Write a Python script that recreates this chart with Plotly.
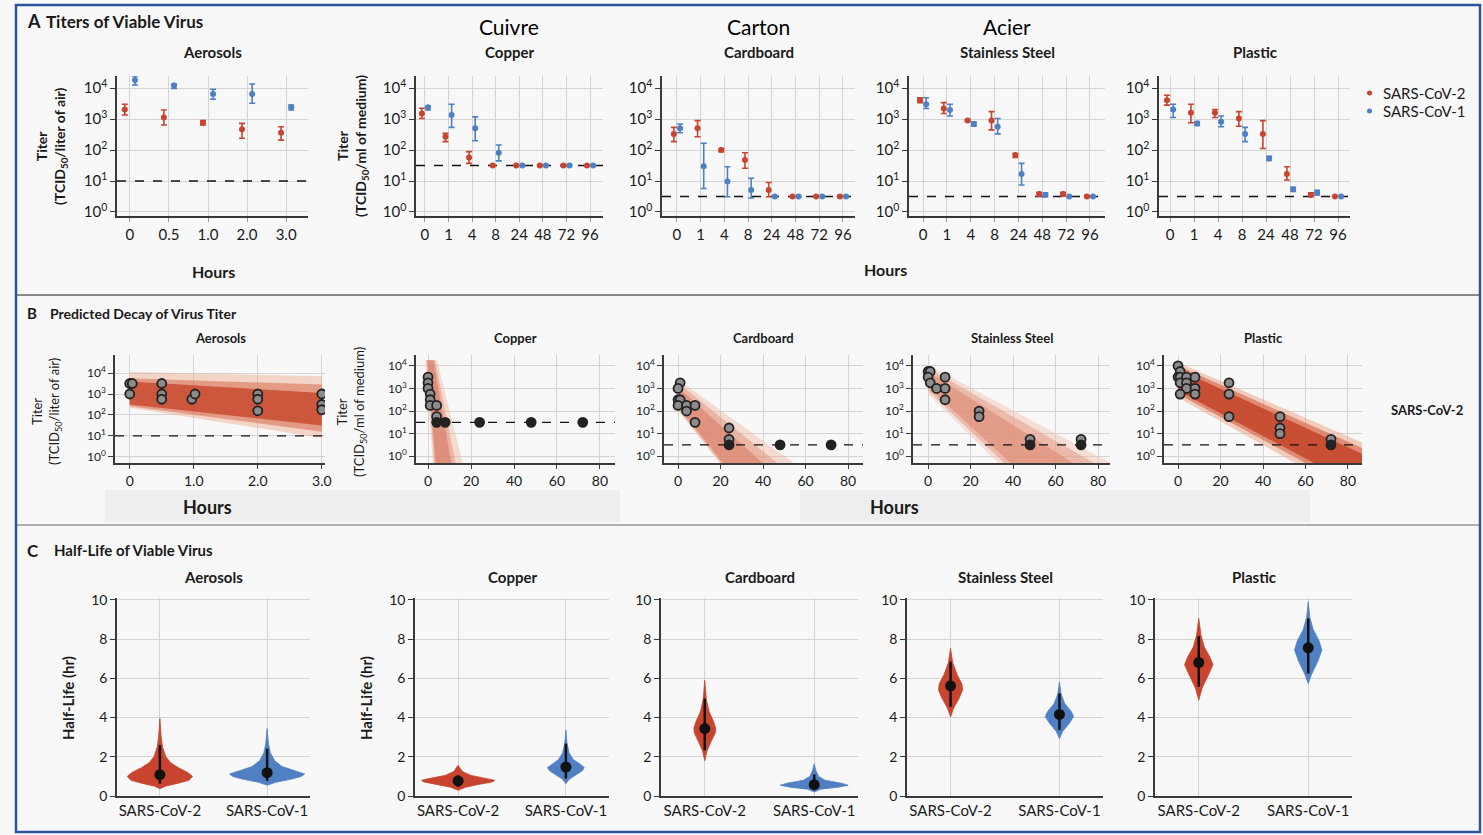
import plotly.graph_objects as go

W, H = 1483, 835
FONT = "Lato, 'Open Sans', sans-serif"
RED = "#c8442e"
BLUE = "#4f80c3"
GRID = "#d4d4d4"
AXIS = "#3a3a3a"
BG = "#f8f8f8"
TXT = "#1a1a1a"

# ---------------- Panel A: titers of viable virus (log10 TCID50) ----------------
panel_names = ["Aerosols", "Copper", "Cardboard", "Stainless Steel", "Plastic"]
french_names = ["", "Cuivre", "Carton", "Acier", ""]
virus_labels = ["SARS-CoV-2", "SARS-CoV-1"]
aer_hours = ["0", "0.5", "1.0", "2.0", "3.0"]
surf_hours = ["0", "1", "4", "8", "24", "48", "72", "96"]

aer_cov2 = [3.31, 3.05, 2.88, 2.67, 2.56]
aer_cov2_hi = [3.48, 3.29, 2.95, 2.86, 2.75]
aer_cov2_lo = [3.13, 2.81, 2.81, 2.38, 2.32]
aer_cov1 = [4.26, 4.08, 3.81, 3.81, 3.38]
aer_cov1_hi = [4.39, 4.13, 3.96, 4.13, 3.45]
aer_cov1_lo = [4.10, 3.99, 3.64, 3.51, 3.29]

cu_cov2 = [3.18, 2.43, 1.76, 1.5, 1.5, 1.5, 1.5, 1.5]
cu_cov2_hi = [3.35, 2.54, 1.95, 1.5, 1.5, 1.5, 1.5, 1.5]
cu_cov2_lo = [3.02, 2.27, 1.57, 1.5, 1.5, 1.5, 1.5, 1.5]
cu_cov1 = [3.38, 3.13, 2.70, 1.91, 1.5, 1.5, 1.5, 1.5]
cu_cov1_hi = [3.42, 3.48, 3.07, 2.16, 1.5, 1.5, 1.5, 1.5]
cu_cov1_lo = [3.29, 2.73, 2.30, 1.65, 1.5, 1.5, 1.5, 1.5]

cb_cov2 = [2.52, 2.70, 2.00, 1.68, 0.71, 0.5, 0.5, 0.5]
cb_cov2_hi = [2.73, 2.95, 2.05, 1.91, 0.95, 0.5, 0.5, 0.5]
cb_cov2_lo = [2.27, 2.43, 1.95, 1.41, 0.49, 0.5, 0.5, 0.5]
cb_cov1 = [2.70, 1.48, 0.98, 0.71, 0.5, 0.5, 0.5, 0.5]
cb_cov1_hi = [2.84, 2.22, 1.46, 1.09, 0.5, 0.5, 0.5, 0.5]
cb_cov1_lo = [2.56, 0.76, 0.49, 0.45, 0.5, 0.5, 0.5, 0.5]

ss_cov2 = [3.61, 3.34, 2.95, 2.95, 1.84, 0.58, 0.58, 0.5]
ss_cov2_hi = [3.69, 3.53, 2.98, 3.24, 1.89, 0.63, 0.63, 0.5]
ss_cov2_lo = [3.53, 3.18, 2.92, 2.65, 1.76, 0.52, 0.52, 0.5]
ss_cov1 = [3.48, 3.29, 2.84, 2.75, 1.23, 0.55, 0.5, 0.5]
ss_cov1_hi = [3.69, 3.48, 2.90, 3.02, 1.57, 0.62, 0.5, 0.5]
ss_cov1_lo = [3.34, 3.10, 2.77, 2.52, 0.87, 0.5, 0.5, 0.5]

pl_cov2 = [3.61, 3.20, 3.20, 3.02, 2.52, 1.23, 0.55, 0.5]
pl_cov2_hi = [3.77, 3.48, 3.31, 3.24, 2.95, 1.46, 0.62, 0.5]
pl_cov2_lo = [3.45, 2.88, 3.05, 2.77, 2.05, 1.03, 0.5, 0.5]
pl_cov1 = [3.31, 2.86, 2.91, 2.52, 1.73, 0.73, 0.62, 0.5]
pl_cov1_hi = [3.48, 2.92, 3.10, 2.73, 1.80, 0.80, 0.70, 0.5]
pl_cov1_lo = [3.05, 2.79, 2.75, 2.27, 1.66, 0.66, 0.55, 0.5]

detection_limit = [1.0, 1.5, 0.5, 0.5, 0.5]

# ---------------- Panel B: predicted decay (SARS-CoV-2) ----------------
aer_obs_t = [0, 0.04, 0, 0.5, 0.5, 0.5, 0.97, 1.02, 2.0, 2.0, 2.0, 3.0, 3.0, 3.0]
aer_obs_y = [3.5, 3.5, 3.0, 3.5, 3.0, 2.75, 2.75, 3.0, 3.0, 2.75, 2.2, 3.0, 2.5, 2.25]
cu_obs_t = [0, 0, 0, 1, 1, 1, 4, 4, 4, 8, 24, 48, 72]
cu_obs_y = [3.5, 3.25, 3.0, 2.75, 2.5, 2.25, 2.25, 1.75, 1.5, 1.5, 1.5, 1.5, 1.5]
cb_obs_t = [1, 0, 0, 1, 0, 4, 4, 8, 8, 24, 24, 24, 48, 72]
cb_obs_y = [3.25, 3.0, 2.5, 2.5, 2.25, 2.25, 2.0, 2.25, 1.5, 1.25, 0.75, 0.5, 0.5, 0.5]
ss_obs_t = [0, 1, 0, 1, 4, 8, 8, 8, 24, 24, 48, 48, 72, 72]
ss_obs_y = [3.75, 3.75, 3.5, 3.25, 3.0, 3.5, 3.0, 2.5, 2.0, 1.75, 0.75, 0.5, 0.75, 0.5]
pl_obs_t = [0, 1, 0, 1, 4, 8, 1, 4, 4, 8, 1, 8, 24, 24, 24, 48, 48, 48, 72, 72]
pl_obs_y = [4.0, 3.75, 3.5, 3.5, 3.5, 3.5, 3.25, 3.25, 3.0, 3.0, 2.75, 2.75,
            3.25, 2.75, 1.75, 1.75, 1.25, 1.0, 0.75, 0.5]

# predicted-decay envelopes (outer, middle, inner), hours / log10 titer
aer_fan_t = [[0, 3, 3, 0], [0, 3, 3, 0], [0, 3, 3, 0]]
aer_fan_y = [[2.35, 0.9, 3.85, 4.05], [2.42, 1.2, 3.45, 3.75], [2.5, 1.5, 3.05, 3.6]]
cu_fan_t = [[-1.4, 2.3, 16.3, 4.2], [-0.8, 3.0, 13.0, 3.2], [-0.3, 3.6, 11.0, 2.5]]
cu_fan_y = [[4.25, -0.4, -0.4, 4.25], [4.25, -0.4, -0.4, 4.25], [4.25, -0.4, -0.4, 4.25]]
cb_fan_t = [[0, 20.5, 56, 0], [0, 21, 48, 0], [0, 22, 41, 0]]
cb_fan_y = [[2.0, -0.4, -0.4, 3.4], [2.1, -0.4, -0.4, 3.25], [2.2, -0.4, -0.4, 3.05]]
ss_fan_t = [[0, 34, 88, 0], [0, 37, 80, 0], [0, 40, 70, 0]]
ss_fan_y = [[2.75, -0.4, -0.4, 4.05], [2.9, -0.4, -0.4, 3.9], [3.05, -0.4, -0.4, 3.75]]
pl_fan_t = [[0, 57, 88, 88, 0], [0, 62, 88, 88, 0], [0, 66, 88, 88, 0]]
pl_fan_y = [[2.6, -0.4, -0.4, 0.55, 4.15], [2.75, -0.4, -0.4, 0.3, 4.0], [2.9, -0.4, -0.4, 0.05, 3.85]]

# ---------------- Panel C: half-life (hours) ----------------
hl_median_cov2 = [1.09, 0.77, 3.44, 5.62, 6.81]
hl_median_cov1 = [1.19, 1.48, 0.58, 4.16, 7.56]
hl_ci_cov2_lo = [0.63, 0.46, 2.33, 4.55, 5.57]
hl_ci_cov2_hi = [2.60, 1.06, 4.97, 6.85, 8.16]
hl_ci_cov1_lo = [0.77, 0.89, 0.30, 3.36, 6.25]
hl_ci_cov1_hi = [2.42, 2.67, 1.10, 5.23, 9.06]
# violin profiles: half-life levels and half-widths (category units)
aer_v2_y = [0.37, 0.5, 0.65, 0.8, 1.0, 1.2, 1.45, 1.7, 2.0, 2.5, 3.0, 3.95]
aer_v2_w = [0, 0.05, 0.17, 0.27, 0.305, 0.26, 0.17, 0.1, 0.055, 0.025, 0.012, 0]
aer_v1_y = [0.55, 0.7, 0.85, 1.0, 1.12, 1.3, 1.5, 1.8, 2.2, 2.7, 3.44]
aer_v1_w = [0, 0.08, 0.22, 0.32, 0.35, 0.25, 0.14, 0.07, 0.03, 0.012, 0]
cu_v2_y = [0.29, 0.45, 0.6, 0.72, 0.8, 0.9, 1.05, 1.25, 1.57]
cu_v2_w = [0, 0.07, 0.2, 0.32, 0.34, 0.26, 0.12, 0.04, 0]
cu_v1_y = [0.63, 0.85, 1.1, 1.3, 1.45, 1.6, 1.85, 2.2, 2.7, 3.36]
cu_v1_w = [0, 0.03, 0.1, 0.155, 0.17, 0.14, 0.07, 0.03, 0.01, 0]
cb_v2_y = [1.8, 2.3, 2.8, 3.2, 3.45, 3.8, 4.3, 4.9, 5.9]
cb_v2_w = [0, 0.02, 0.06, 0.095, 0.1, 0.08, 0.04, 0.015, 0]
cb_v1_y = [0.2, 0.35, 0.45, 0.55, 0.65, 0.8, 1.0, 1.3, 1.65]
cb_v1_w = [0, 0.06, 0.22, 0.31, 0.25, 0.1, 0.04, 0.015, 0]
ss_v2_y = [4.04, 4.5, 5.0, 5.4, 5.7, 6.2, 6.8, 7.53]
ss_v2_w = [0, 0.03, 0.08, 0.11, 0.105, 0.06, 0.02, 0]
ss_v1_y = [2.93, 3.3, 3.7, 4.05, 4.3, 4.7, 5.2, 5.83]
ss_v1_w = [0, 0.03, 0.09, 0.13, 0.11, 0.05, 0.015, 0]
pl_v2_y = [4.89, 5.5, 6.2, 6.7, 7.1, 7.6, 8.2, 9.06]
pl_v2_w = [0, 0.03, 0.09, 0.13, 0.1, 0.05, 0.02, 0]
pl_v1_y = [5.74, 6.2, 6.9, 7.45, 7.9, 8.5, 9.1, 9.91]
pl_v1_w = [0, 0.03, 0.09, 0.125, 0.1, 0.045, 0.015, 0]

# ---------------- assemble ----------------
A_series = [
    (aer_hours, aer_cov2, aer_cov2_hi, aer_cov2_lo, aer_cov1, aer_cov1_hi, aer_cov1_lo),
    (surf_hours, cu_cov2, cu_cov2_hi, cu_cov2_lo, cu_cov1, cu_cov1_hi, cu_cov1_lo),
    (surf_hours, cb_cov2, cb_cov2_hi, cb_cov2_lo, cb_cov1, cb_cov1_hi, cb_cov1_lo),
    (surf_hours, ss_cov2, ss_cov2_hi, ss_cov2_lo, ss_cov1, ss_cov1_hi, ss_cov1_lo),
    (surf_hours, pl_cov2, pl_cov2_hi, pl_cov2_lo, pl_cov1, pl_cov1_hi, pl_cov1_lo),
]
B_obs = [(aer_obs_t, aer_obs_y), (cu_obs_t, cu_obs_y), (cb_obs_t, cb_obs_y),
         (ss_obs_t, ss_obs_y), (pl_obs_t, pl_obs_y)]
B_fans = [(aer_fan_t, aer_fan_y), (cu_fan_t, cu_fan_y), (cb_fan_t, cb_fan_y),
          (ss_fan_t, ss_fan_y), (pl_fan_t, pl_fan_y)]
C_violins = [((aer_v2_y, aer_v2_w), (aer_v1_y, aer_v1_w)),
             ((cu_v2_y, cu_v2_w), (cu_v1_y, cu_v1_w)),
             ((cb_v2_y, cb_v2_w), (cb_v1_y, cb_v1_w)),
             ((ss_v2_y, ss_v2_w), (ss_v1_y, ss_v1_w)),
             ((pl_v2_y, pl_v2_w), (pl_v1_y, pl_v1_w))]

# layout geometry (pixels)
A_x = [(117, 308), (416, 603), (662, 855), (909, 1105), (1159, 1350)]
A_y = (76, 216)
A_xrange = [(-0.33, 4.56), (-0.38, 7.55), (-0.63, 7.51), (-0.59, 7.63), (-0.46, 7.5)]
A_yrange = (-0.13, 4.39)
B_x = [(115, 325), (416, 615), (664, 863), (913, 1110), (1164, 1362)]
B_y = (355, 463)
B_xrange = [(-0.23, 3.05), (-5.6, 87), (-6.6, 87), (-7.1, 85.6), (-6.6, 86.6)]
B_yrange = [(-0.29, 4.86), (-0.30, 4.48), (-0.30, 4.48), (-0.30, 4.48), (-0.30, 4.48)]
C_x = [(117, 310), (415, 609), (661, 858), (907, 1103), (1155, 1352)]
C_y = (598, 796)

fan_colors = [
    ["rgba(238,170,140,0.45)", "rgba(214,108,78,0.55)", "rgba(196,64,38,0.75)"],
    ["rgba(240,185,165,0.45)", "rgba(225,140,118,0.5)", "rgba(214,115,92,0.55)"],
    ["rgba(240,185,165,0.45)", "rgba(226,145,122,0.5)", "rgba(215,118,95,0.55)"],
    ["rgba(240,190,170,0.45)", "rgba(228,150,128,0.5)", "rgba(218,125,102,0.5)"],
    ["rgba(236,160,130,0.5)", "rgba(212,95,65,0.6)", "rgba(194,62,36,0.8)"],
]

def xd(p):
    return [p[0] / W, p[1] / W]

def yd(p):
    return [1 - p[1] / H, 1 - p[0] / H]

fig = go.Figure()
layout = {}
dec_vals = [1, 10, 100, 1000, 10000]
dec_text = ["10<sup>%d</sup>" % k for k in range(5)]

def akey(kind, n):
    return kind + ("axis" if n == 1 else "axis%d" % n)

def ref(kind, n):
    return kind + ("" if n == 1 else str(n))

# ---- Row A ----
for i in range(5):
    n = i + 1
    labels, c2, c2h, c2l, c1, c1h, c1l = A_series[i]
    idx = list(range(len(labels)))
    off = 0.13
    lo_x, hi_x = A_xrange[i]
    lim = 10 ** detection_limit[i]
    fig.add_trace(go.Scatter(x=[lo_x, hi_x], y=[lim, lim], mode="lines",
                             line=dict(color="#111", width=1.3, dash="dash"),
                             showlegend=False, hoverinfo="skip",
                             xaxis=ref("x", n), yaxis=ref("y", n)))
    for vals, hi, lo, col, name, sgn in [(c2, c2h, c2l, RED, virus_labels[0], -1),
                                         (c1, c1h, c1l, BLUE, virus_labels[1], 1)]:
        v = [10 ** a for a in vals]
        up = [10 ** h - 10 ** a for a, h in zip(vals, hi)]
        dn = [10 ** a - 10 ** l for a, l in zip(vals, lo)]
        fig.add_trace(go.Scatter(
            x=[k + sgn * off for k in idx], y=v, mode="markers", name=name,
            marker=dict(color=col, size=6),
            error_y=dict(type="data", array=up, arrayminus=dn, color=col,
                         thickness=1.6, width=3),
            showlegend=False, xaxis=ref("x", n), yaxis=ref("y", n)))
    layout[akey("x", n)] = dict(domain=xd(A_x[i]), anchor=ref("y", n), range=list(A_xrange[i]),
                               tickvals=idx, ticktext=labels, showgrid=True, gridcolor=GRID,
                               showline=True, linecolor=AXIS, linewidth=1.5, ticks="outside",
                               ticklen=4, tickcolor="#999", zeroline=False, automargin=False,
                               tickfont=dict(size=15, family=FONT, color=TXT))
    layout[akey("y", n)] = dict(domain=yd(A_y), anchor=ref("x", n), type="log", range=list(A_yrange),
                               tickvals=dec_vals, ticktext=dec_text, showgrid=True, gridcolor=GRID,
                               showline=True, linecolor=AXIS, linewidth=1.5, ticks="outside",
                               ticklen=5, tickcolor=AXIS, zeroline=False, automargin=False,
                               tickfont=dict(size=15, family=FONT, color=TXT))

# ---- Row B ----
for i in range(5):
    n = i + 6
    ft, fy = B_fans[i]
    for lvl in range(3):
        fig.add_trace(go.Scatter(x=ft[lvl], y=[10 ** a for a in fy[lvl]], mode="lines",
                                 fill="toself", fillcolor=fan_colors[i][lvl],
                                 line=dict(width=0), showlegend=False, hoverinfo="skip",
                                 xaxis=ref("x", n), yaxis=ref("y", n)))
    lo_x, hi_x = B_xrange[i]
    lim = 10 ** detection_limit[i]
    fig.add_trace(go.Scatter(x=[lo_x, hi_x], y=[lim, lim], mode="lines",
                             line=dict(color="#111", width=1.3, dash="dash"),
                             showlegend=False, hoverinfo="skip",
                             xaxis=ref("x", n), yaxis=ref("y", n)))
    t, y = B_obs[i]
    fills = ["#222" if abs(a - detection_limit[i]) < 1e-9 else "#8c8c8c" for a in y]
    fig.add_trace(go.Scatter(x=t, y=[10 ** a for a in y], mode="markers",
                             marker=dict(size=9, color=fills, line=dict(color="#222", width=1.8)),
                             showlegend=False, xaxis=ref("x", n), yaxis=ref("y", n)))
    if i == 0:
        tv, tt = [0, 1, 2, 3], ["0", "1.0", "2.0", "3.0"]
    else:
        tv, tt = [0, 20, 40, 60, 80], ["0", "20", "40", "60", "80"]
    layout[akey("x", n)] = dict(domain=xd(B_x[i]), anchor=ref("y", n), range=list(B_xrange[i]),
                               tickvals=tv, ticktext=tt, showgrid=True, gridcolor=GRID,
                               showline=True, linecolor=AXIS, linewidth=1.5, ticks="outside",
                               ticklen=4, tickcolor=AXIS, zeroline=False, automargin=False,
                               tickfont=dict(size=14, family=FONT, color=TXT))
    layout[akey("y", n)] = dict(domain=yd(B_y), anchor=ref("x", n), type="log", range=list(B_yrange[i]),
                               tickvals=dec_vals, ticktext=dec_text, showgrid=True, gridcolor=GRID,
                               showline=True, linecolor=AXIS, linewidth=1.5, ticks="outside",
                               ticklen=5, tickcolor=AXIS, zeroline=False, automargin=False,
                               tickfont=dict(size=12, family=FONT, color=TXT))

# ---- Row C ----
meds = [hl_median_cov2, hl_median_cov1]
cil = [hl_ci_cov2_lo, hl_ci_cov1_lo]
cih = [hl_ci_cov2_hi, hl_ci_cov1_hi]
for i in range(5):
    n = i + 11
    for j, col in enumerate([RED, BLUE]):
        vy, vw = C_violins[i][j]
        xs = [j + w for w in vw] + [j - w for w in vw[::-1]]
        ys = list(vy) + list(vy[::-1])
        fig.add_trace(go.Scatter(x=xs, y=ys, mode="lines", fill="toself", fillcolor=col,
                                 line=dict(color=col, width=0.8), showlegend=False,
                                 hoverinfo="skip", xaxis=ref("x", n), yaxis=ref("y", n)))
        fig.add_trace(go.Scatter(x=[j, j], y=[cil[j][i], cih[j][i]], mode="lines",
                                 line=dict(color="#111", width=2.5), showlegend=False,
                                 hoverinfo="skip", xaxis=ref("x", n), yaxis=ref("y", n)))
        fig.add_trace(go.Scatter(x=[j], y=[meds[j][i]], mode="markers",
                                 marker=dict(color="#111", size=11), showlegend=False,
                                 xaxis=ref("x", n), yaxis=ref("y", n)))
    layout[akey("x", n)] = dict(domain=xd(C_x[i]), anchor=ref("y", n), range=[-0.4, 1.4],
                               tickvals=[0, 1], ticktext=virus_labels, showgrid=True, gridcolor=GRID,
                               showline=True, linecolor=AXIS, linewidth=2, ticks="", zeroline=False,
                               automargin=False, tickfont=dict(size=15, family=FONT, color=TXT))
    layout[akey("y", n)] = dict(domain=yd(C_y), anchor=ref("x", n), range=[0, 10.1],
                               tickvals=[0, 2, 4, 6, 8, 10], showgrid=True, gridcolor=GRID,
                               showline=True, linecolor=AXIS, linewidth=1.5, ticks="outside",
                               ticklen=5, tickcolor=AXIS, zeroline=False, automargin=False,
                               tickfont=dict(size=14, family=FONT, color=TXT))

# ---- annotations ----
anns = []

def ann(x, y, text, size, xanchor="center", angle=0, color=TXT):
    anns.append(dict(x=x / W, y=1 - y / H, xref="paper", yref="paper", text=text,
                     showarrow=False, xanchor=xanchor, yanchor="middle", textangle=angle,
                     font=dict(size=size, family=FONT, color=color)))

ann(25, 21, "<b>A</b>", 18, "left")
ann(44, 21, "<b>Titers of Viable Virus</b>", 17, "left")
ann(25, 313, "<b>B</b>", 15, "left")
ann(48, 313, "<b>Predicted Decay of Virus Titer</b>", 14, "left")
ann(25, 550, "<b>C</b>", 17, "left")
ann(52, 550, "<b>Half-Life of Viable Virus</b>", 15, "left")

for i in range(5):
    cx = (A_x[i][0] + A_x[i][1]) / 2
    ann(cx, 52, "<b>%s</b>" % panel_names[i], 15)
    if french_names[i]:
        ann(cx, 27, french_names[i], 21, color="#000")
    cxb = (B_x[i][0] + B_x[i][1]) / 2
    ann(cxb, 338, "<b>%s</b>" % panel_names[i], 13)
    cxc = (C_x[i][0] + C_x[i][1]) / 2
    ann(cxc, 577, "<b>%s</b>" % panel_names[i], 15)

ann(52, 146, "<b>Titer</b><br><b>(TCID<sub>50</sub>/liter of air)</b>", 14, angle=-90)
ann(353, 146, "<b>Titer</b><br><b>(TCID<sub>50</sub>/ml of medium)</b>", 14, angle=-90)
ann(213, 272, "<b>Hours</b>", 16)
ann(885, 269, "<b>Hours</b>", 16)

ann(47, 412, "Titer<br>(TCID<sub>50</sub>/liter of air)", 13, angle=-90)
ann(352, 412, "Titer<br>(TCID<sub>50</sub>/ml of medium)", 13, angle=-90)
ann(207, 507, "<b>Hours</b>", 18)
ann(895, 507, "<b>Hours</b>", 18)
ann(1427, 410, "<b>SARS-CoV-2</b>", 13)

ann(68, 698, "<b>Half-Life (hr)</b>", 15, angle=-90)
ann(366, 698, "<b>Half-Life (hr)</b>", 15, angle=-90)

# legend (row A)
ann(1381, 93, virus_labels[0], 15, "left")
ann(1381, 111, virus_labels[1], 15, "left")

shapes = [
    dict(type="rect", xref="paper", yref="paper", x0=105 / W, x1=620 / W,
         y0=1 - 522 / H, y1=1 - 490 / H, fillcolor="#eeeeee", line=dict(width=0), layer="below"),
    dict(type="rect", xref="paper", yref="paper", x0=800 / W, x1=1310 / W,
         y0=1 - 522 / H, y1=1 - 490 / H, fillcolor="#eeeeee", line=dict(width=0), layer="below"),
    dict(type="line", xref="paper", yref="paper", x0=16 / W, x1=1480 / W,
         y0=1 - 295 / H, y1=1 - 295 / H, line=dict(color="#8a8a8a", width=2)),
    dict(type="line", xref="paper", yref="paper", x0=16 / W, x1=1480 / W,
         y0=1 - 525 / H, y1=1 - 525 / H, line=dict(color="#b0b0b0", width=2)),
    dict(type="rect", xref="paper", yref="paper", x0=16 / W, x1=1480 / W,
         y0=1 - 832 / H, y1=1 - 5 / H, line=dict(color="#2d55a0", width=2.5)),
]
for k, col in enumerate([RED, BLUE]):
    cy = 93 + 18 * k
    shapes.append(dict(type="circle", xref="paper", yref="paper",
                       x0=1367 / W, x1=1372 / W, y0=1 - (cy + 2.5) / H, y1=1 - (cy - 2.5) / H,
                       fillcolor=col, line=dict(width=0)))

fig.update_layout(
    width=W, height=H, autosize=False,
    margin=dict(l=0, r=0, t=0, b=0, pad=0, autoexpand=False),
    paper_bgcolor=BG, plot_bgcolor=BG,
    font=dict(family=FONT, color=TXT),
    showlegend=False,
    annotations=anns, shapes=shapes,
    **layout,
)

fig.write_html(
    "out.html",
    config={"displayModeBar": False},
    post_script="document.body.style.margin='0px';document.body.style.overflow='hidden';",
)
